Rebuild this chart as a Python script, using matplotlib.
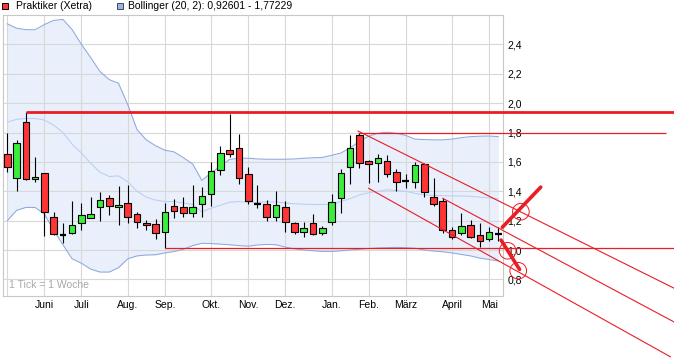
import numpy as np
import pandas as pd
import matplotlib
matplotlib.use('Agg')
import matplotlib.pyplot as plt
import matplotlib.dates as mdates
from matplotlib.patches import Rectangle, Ellipse

plt.rcParams['font.family'] = ['Liberation Sans', 'DejaVu Sans']

# weekly candles (week ending friday)
dates = pd.date_range('2011-05-06', periods=54, freq='W-FRI')

opens = [1.653, 1.489, 1.870, 1.482, 1.523, 1.227, 1.105, 1.118, 1.186, 1.220,
         1.295, 1.352, 1.291, 1.318, 1.243, 1.186, 1.175, 1.121, 1.300, 1.295,
         1.250, 1.311, 1.380, 1.543, 1.681, 1.693, 1.518, 1.316, 1.311, 1.223,
         1.295, 1.182, 1.121, 1.182, 1.114, 1.189, 1.352, 1.568, 1.784, 1.606,
         1.591, 1.609, 1.534, 1.470, 1.465, 1.586, 1.359, 1.336, 1.136, 1.114,
         1.170, 1.102, 1.075, 1.107]
highs = [1.797, 1.750, 1.942, 1.636, 1.523, 1.257, 1.182, 1.334, 1.322, 1.363,
         1.397, 1.375, 1.436, 1.443, 1.261, 1.204, 1.209, 1.318, 1.345, 1.363,
         1.441, 1.427, 1.598, 1.709, 1.927, 1.790, 1.564, 1.443, 1.341, 1.402,
         1.334, 1.193, 1.189, 1.245, 1.164, 1.380, 1.552, 1.784, 1.795, 1.613,
         1.654, 1.647, 1.552, 1.518, 1.602, 1.595, 1.489, 1.352, 1.159, 1.254,
         1.204, 1.182, 1.155, 1.155]
lows = [1.534, 1.404, 1.480, 1.465, 1.095, 1.105, 1.050, 1.107, 1.136, 1.216,
        1.200, 1.239, 1.170, 1.186, 1.148, 1.136, 1.073, 1.012, 1.220, 1.223,
        1.227, 1.227, 1.300, 1.509, 1.632, 1.448, 1.311, 1.284, 1.200, 1.200,
        1.125, 1.107, 1.091, 1.102, 1.102, 1.170, 1.254, 1.450, 1.561, 1.454,
        1.465, 1.495, 1.404, 1.420, 1.420, 1.363, 1.300, 1.114, 1.073, 1.102,
        1.080, 1.018, 1.064, 1.061]
closes = [1.565, 1.727, 1.482, 1.495, 1.257, 1.107, 1.105, 1.170, 1.236, 1.245,
          1.341, 1.302, 1.307, 1.227, 1.189, 1.170, 1.114, 1.257, 1.268, 1.250,
          1.295, 1.370, 1.538, 1.659, 1.654, 1.489, 1.334, 1.316, 1.227, 1.305,
          1.189, 1.121, 1.148, 1.107, 1.148, 1.325, 1.523, 1.693, 1.591, 1.586,
          1.625, 1.518, 1.465, 1.470, 1.579, 1.393, 1.311, 1.136, 1.091, 1.164,
          1.091, 1.064, 1.121, 1.107]

# bollinger (20, 2)
boll_upper = [2.54, 2.51, 2.50, 2.50, 2.535, 2.563, 2.57, 2.50, 2.40, 2.31,
              2.215, 2.16, 2.135, 1.99, 1.82, 1.75, 1.71, 1.68, 1.668, 1.629,
              1.586, 1.474, 1.525, 1.572, 1.617, 1.625, 1.625, 1.62, 1.618, 1.618,
              1.618, 1.62, 1.625, 1.628, 1.63, 1.645, 1.66, 1.695, 1.74, 1.775,
              1.795, 1.802, 1.795, 1.78, 1.755, 1.752, 1.75, 1.75, 1.755, 1.765,
              1.772, 1.775, 1.776, 1.772]
boll_mid = [1.87, 1.89, 1.895, 1.895, 1.885, 1.85, 1.80, 1.72, 1.66, 1.59,
            1.53, 1.50, 1.505, 1.465, 1.40, 1.36, 1.34, 1.33, 1.33, 1.32,
            1.31, 1.26, 1.285, 1.305, 1.325, 1.33, 1.325, 1.325, 1.328, 1.327,
            1.32, 1.315, 1.312, 1.31, 1.31, 1.312, 1.33, 1.35, 1.375, 1.39,
            1.40, 1.41, 1.405, 1.40, 1.385, 1.376, 1.372, 1.37, 1.368, 1.368,
            1.366, 1.36, 1.355, 1.349]
boll_lower = [1.20, 1.27, 1.29, 1.29, 1.245, 1.135, 1.035, 0.94, 0.91, 0.87,
              0.85, 0.85, 0.88, 0.94, 0.96, 0.966, 0.968, 0.98, 0.99, 1.005,
              1.03, 1.046, 1.044, 1.04, 1.036, 1.03, 1.026, 1.034, 1.038, 1.036,
              1.02, 1.008, 1.0, 0.995, 0.99, 0.99, 0.995, 1.0, 1.005, 1.01,
              1.014, 1.016, 1.018, 1.016, 1.012, 1.0, 0.993, 0.988, 0.98, 0.97,
              0.96, 0.945, 0.935, 0.926]

month_labels = ['', 'Juni', 'Juli', 'Aug.', 'Sep.', 'Okt.', 'Nov.', 'Dez.',
                'Jan.', 'Feb.', 'März', 'April', 'Mai']

# hand drawn lines: (start date, start value, end date, end value)
support_lines = [('2011-05-20', 1.942, '2012-09-21', 1.942),
                 ('2012-01-26', 1.795, '2012-09-15', 1.795),
                 ('2011-09-02', 1.012, '2012-09-21', 1.012)]
channel_lines = [('2012-01-26', 1.81, '2012-09-21', 0.739),
                 ('2012-03-30', 1.352, '2012-09-21', 0.509),
                 ('2012-02-03', 1.42, '2012-09-18', 0.273)]
arrow_lines = [('2012-05-14', 1.155, '2012-06-12', 1.428),
               ('2012-05-13', 1.068, '2012-05-27', 0.868)]
circles = [('2012-05-28', 1.261), ('2012-05-18', 0.995), ('2012-05-26', 0.859)]

RED = '#ff3535'
GREEN = '#3aef3a'
LINE_RED = '#ea1c24'

x = mdates.date2num(dates)
d = lambda s: mdates.date2num(pd.Timestamp(s))

fig = plt.figure(figsize=(6.74, 3.61), dpi=100)
ax = fig.add_axes([2.7 / 674, 1 - 296 / 361, 500.3 / 674, 281 / 361])

# bollinger band
ax.fill_between(x, boll_lower, boll_upper, color='#e9f0fb', zorder=0.3, lw=0)
ax.plot(x, boll_upper, color='#8ea9dc', lw=0.75, zorder=1.5)
ax.plot(x, boll_lower, color='#8ea9dc', lw=0.75, zorder=1.5)
ax.plot(x, boll_mid, color='#b8cff4', lw=0.75, zorder=1.5)

# candles
w = 5.0
for xi, o, h, l, c in zip(x, opens, highs, lows, closes):
    ax.vlines(xi, l, h, color='black', lw=0.8, zorder=3)
    if abs(c - o) < 0.002:
        ax.hlines(o, xi - w / 2, xi + w / 2, color='black', lw=1.6, zorder=4)
    else:
        col = GREEN if c > o else RED
        ax.add_patch(Rectangle((xi - w / 2, min(o, c)), w, abs(c - o),
                               facecolor=col, edgecolor='black', lw=0.8, zorder=4))

# drawn lines
for s0, v0, s1, v1 in support_lines:
    lw = 2.0 if v0 > 1.9 else 0.9
    ax.plot([d(s0), d(s1)], [v0, v1], color=LINE_RED, lw=lw, zorder=5, clip_on=False,
            solid_capstyle='butt')
for s0, v0, s1, v1 in channel_lines:
    ax.plot([d(s0), d(s1)], [v0, v1], color=LINE_RED, lw=0.8, zorder=5, clip_on=False)
for s0, v0, s1, v1 in arrow_lines:
    ax.plot([d(s0), d(s1)], [v0, v1], color=LINE_RED, lw=2.6, zorder=6, clip_on=False,
            solid_capstyle='round')
for s, v in circles:
    ax.add_patch(Ellipse((d(s), v), 12.6, 0.113, fill=False, edgecolor=LINE_RED,
                         lw=0.7, zorder=6, clip_on=False))

# axes / grid
ax.set_xlim(x[0] - 3.5, x[0] + 53.5 * 7)
ax.set_ylim(0.687, 2.6)

month_pos = [x[i] for i in range(len(x)) if i == 0 or dates[i].month != dates[i - 1].month]
ax.set_xticks(month_pos)
ax.set_xticklabels(month_labels)
yt = np.round(np.arange(0.8, 2.41, 0.2), 1)
ax.set_yticks(yt)
ax.set_yticklabels([f'{v:.1f}'.replace('.', ',') for v in yt])
ax.yaxis.tick_right()
ax.tick_params(axis='both', length=0, labelsize=7.5, colors='black')
ax.tick_params(axis='x', pad=3)
ax.tick_params(axis='y', pad=3)
ax.grid(True, color='#d8d8d8', lw=0.8)
ax.set_axisbelow(True)
for sp in ax.spines.values():
    sp.set_color('#c8c8c8')
    sp.set_linewidth(0.8)

ax.text(0.012, 0.022, '1 Tick = 1 Woche', transform=ax.transAxes, fontsize=7.5,
        color='#a8a8a8', ha='left', va='bottom')

# legend on top
fig.patches.append(Rectangle((1.7 / 674, 1 - 9.3 / 361), 6.6 / 674, 6.6 / 361,
                             transform=fig.transFigure, facecolor=RED, edgecolor='black', lw=0.7))
fig.text(16 / 674, 1 - 6 / 361, 'Praktiker (Xetra)', fontsize=7.5, va='center', ha='left')
fig.patches.append(Rectangle((116.7 / 674, 1 - 9.3 / 361), 6.6 / 674, 6.6 / 361,
                             transform=fig.transFigure, facecolor='#9db3e0', edgecolor='#404860', lw=0.7))
fig.text(128.3 / 674, 1 - 6 / 361, 'Bollinger (20, 2): 0,92601 - 1,77229', fontsize=7.5,
         va='center', ha='left')

fig.savefig('out.png', dpi=100)
